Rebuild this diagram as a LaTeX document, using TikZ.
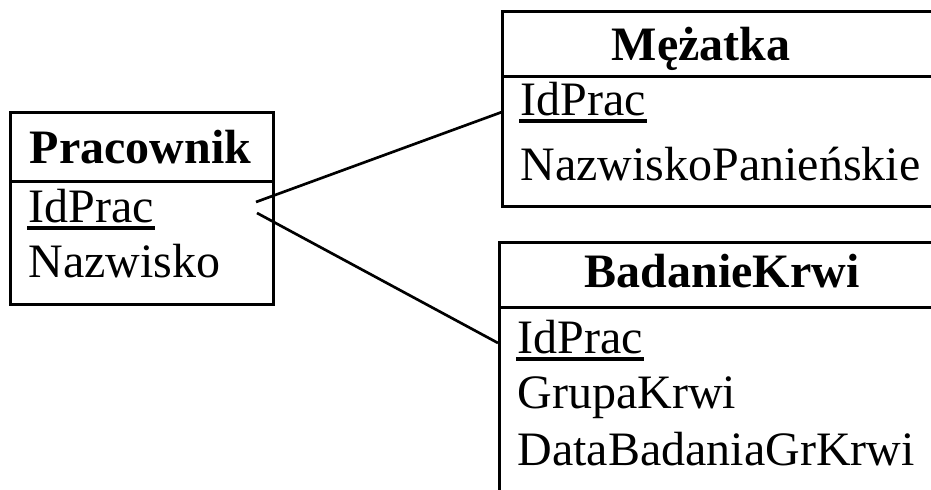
\documentclass[tikz,border=0pt]{standalone}
\usepackage{fontspec}
\setmainfont{Liberation Serif}
\begin{document}
\begin{tikzpicture}[x=0.75pt,y=-0.75pt,line width=2.25pt,
  txt/.style={inner sep=0pt,anchor=base west,font=\fontsize{36}{40}\selectfont},
  hdr/.style={inner sep=0pt,anchor=base,font=\fontsize{36}{40}\selectfont\bfseries},
  box/.style={draw,inner sep=0pt,anchor=north west},
  uline/.style={line width=3pt},
  conn/.style={line width=2pt}]
\useasboundingbox (0,0) rectangle (931,489);
\clip (0,0) rectangle (931,489);
% Pracownik
\node[box,minimum width=263*0.75pt,minimum height=192*0.75pt] (pbox) at (9,111) {};
\draw (9,181) -- (272,181);
\node[hdr] (ph) at (140.5,163) {Pracownik};
\node[txt] (pid) at (27,222) {IdPrac};
\node[txt] (pn) at (27,277) {Nazwisko};
\draw[uline] ([yshift=-5.5*0.75pt]pid.base west) -- ([yshift=-5.5*0.75pt]pid.base east);
% Mezatka
\node[box,minimum width=460*0.75pt,minimum height=195*0.75pt] (mbox) at (501,10) {};
\draw (501,76) -- (961,76);
\node[hdr] (mh) at (701,60) {Mężatka};
\node[txt] (mid) at (519,115) {IdPrac};
\node[txt] (mn) at (519,180) {NazwiskoPanieńskie};
\draw[uline] ([yshift=-5.5*0.75pt]mid.base west) -- ([yshift=-5.5*0.75pt]mid.base east);
% BadanieKrwi
\node[box,minimum width=460*0.75pt,minimum height=300*0.75pt] (bbox) at (498,241) {};
\draw (498,307) -- (958,307);
\node[hdr] (bh) at (722,287) {BadanieKrwi};
\node[txt] (bid) at (516,353) {IdPrac};
\node[txt] (bg) at (516,408) {GrupaKrwi};
\node[txt] (bd) at (516,465) {DataBadaniaGrKrwi};
\draw[uline] ([yshift=-5.5*0.75pt]bid.base west) -- ([yshift=-5.5*0.75pt]bid.base east);
% connectors
\coordinate (pa) at (256,202);
\coordinate (ma) at (502,112);
\coordinate (pb) at (257,213);
\coordinate (ba) at (498,343);
\draw[conn] (pa) -- (ma);
\draw[conn] (pb) -- (ba);
\end{tikzpicture}
\end{document}
